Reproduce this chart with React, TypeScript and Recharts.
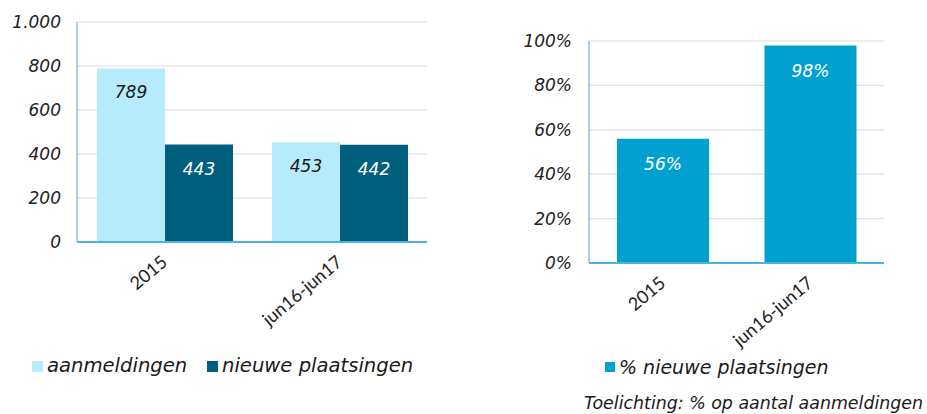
import React from 'react';
import { BarChart, Bar, XAxis, YAxis, CartesianGrid, LabelList } from 'recharts';

const periods = ['2015', 'jun16-jun17'];
const aanmeldingen = [789, 453];
const nieuwePlaatsingen = [443, 442];
const pctNieuwePlaatsingen = [56, 98];
const countTicks = [0, 200, 400, 600, 800, 1000];
const pctTicks = [0, 20, 40, 60, 80, 100];

const LIGHT = '#b5ebfb';
const DARK = '#005f7d';
const BLUE = '#00a1d1';
const FONT = '"DejaVu Sans", Verdana, sans-serif';

const countData = periods.map((p, i) => ({
  period: p,
  aanmeldingen: aanmeldingen[i],
  plaatsingen: nieuwePlaatsingen[i],
}));
const pctData = periods.map((p, i) => ({ period: p, pct: pctNieuwePlaatsingen[i] }));

const XTick = (props: any) => {
  const { x, y, payload } = props;
  const ax = x + 4;
  const ay = y + 22;
  return (
    <text x={ax} y={ay} transform={`rotate(-40 ${ax} ${ay})`} textAnchor="end"
      fontFamily="Lato, sans-serif" fontSize={18} fill="#222">
      {payload.value}
    </text>
  );
};

const yTickStyle = { fontSize: 17, fontStyle: 'italic', fill: '#222', fontFamily: FONT };
const labelStyle = { fontSize: 17, fontStyle: 'italic', fontFamily: FONT };

const LegendItem = ({ x, y, color, size, label, fontSize }: any) => (
  <div style={{ position: 'absolute', left: x, top: y, fontSize, fontStyle: 'italic', color: '#1a1a1a', whiteSpace: 'nowrap', lineHeight: '24px', display: 'flex', alignItems: 'center' }}>
    <span style={{ display: 'inline-block', width: size, height: size, background: color, marginRight: 4 }} />
    {label}
  </div>
);

export default function App() {
  return (
    <div style={{ position: 'absolute', left: 0, top: 0, width: 927, height: 414, background: '#fff', fontFamily: FONT, overflow: 'hidden' }}>
      <div style={{ position: 'absolute', left: 0, top: 0 }}>
        <BarChart width={440} height={345} data={countData} margin={{ top: 22, right: 13, bottom: 35, left: 0 }}
          barCategoryGap={20} barGap={0}>
          <CartesianGrid vertical={false} stroke="#dcdcdc" strokeWidth={1.2} />
          <XAxis dataKey="period" height={68} tick={<XTick />} tickLine={false} tickSize={0} tickMargin={0}
            axisLine={{ stroke: '#4db3e0', strokeWidth: 2 }} interval={0} />
          <YAxis width={77} domain={[0, 1000]} ticks={countTicks} tickLine={false} tickSize={0} tickMargin={16}
            axisLine={{ stroke: '#8dbde6', strokeWidth: 1.5 }} tick={yTickStyle}
            tickFormatter={(v: number) => (v >= 1000 ? v.toString().replace(/(\d)(\d{3})$/, '$1.$2') : String(v))} />
          <Bar dataKey="aanmeldingen" fill={LIGHT} isAnimationActive={false}>
            <LabelList dataKey="aanmeldingen" position="insideTop" offset={18} fill="#1a1a1a" style={labelStyle} />
          </Bar>
          <Bar dataKey="plaatsingen" fill={DARK} isAnimationActive={false}>
            <LabelList dataKey="plaatsingen" position="insideTop" offset={18} fill="#ffffff" style={labelStyle} />
          </Bar>
        </BarChart>
      </div>

      <div style={{ position: 'absolute', left: 480, top: 0 }}>
        <BarChart width={414} height={350} data={pctData} margin={{ top: 41, right: 10, bottom: 10, left: 0 }}
          barCategoryGap={28}>
          <CartesianGrid vertical={false} stroke="#dcdcdc" strokeWidth={1.2} />
          <XAxis dataKey="period" height={77} tick={<XTick />} tickLine={false} tickSize={0} tickMargin={0}
            axisLine={{ stroke: '#4db3e0', strokeWidth: 2 }} interval={0} />
          <YAxis width={109} domain={[0, 100]} ticks={pctTicks} tickLine={false} tickSize={0} tickMargin={17}
            axisLine={{ stroke: '#8dbde6', strokeWidth: 1.5 }} tick={yTickStyle}
            tickFormatter={(v: number) => `${v}%`} />
          <Bar dataKey="pct" fill={BLUE} isAnimationActive={false}>
            <LabelList dataKey="pct" position="insideTop" offset={19} fill="#ffffff" style={labelStyle}
              formatter={(v: any) => `${v}%`} />
          </Bar>
        </BarChart>
      </div>

      <LegendItem x={32} y={354} color={LIGHT} size={11} label="aanmeldingen" fontSize={19.6} />
      <LegendItem x={207} y={354} color={DARK} size={11} label="nieuwe plaatsingen" fontSize={19.6} />
      <LegendItem x={605} y={355} color={BLUE} size={10} label="% nieuwe plaatsingen" fontSize={19} />

      <div style={{ position: 'absolute', left: 584, top: 393, fontSize: 17.4, fontStyle: 'italic', color: '#1a1a1a', whiteSpace: 'nowrap', lineHeight: '20px' }}>
        Toelichting: % op aantal aanmeldingen
      </div>
    </div>
  );
}
